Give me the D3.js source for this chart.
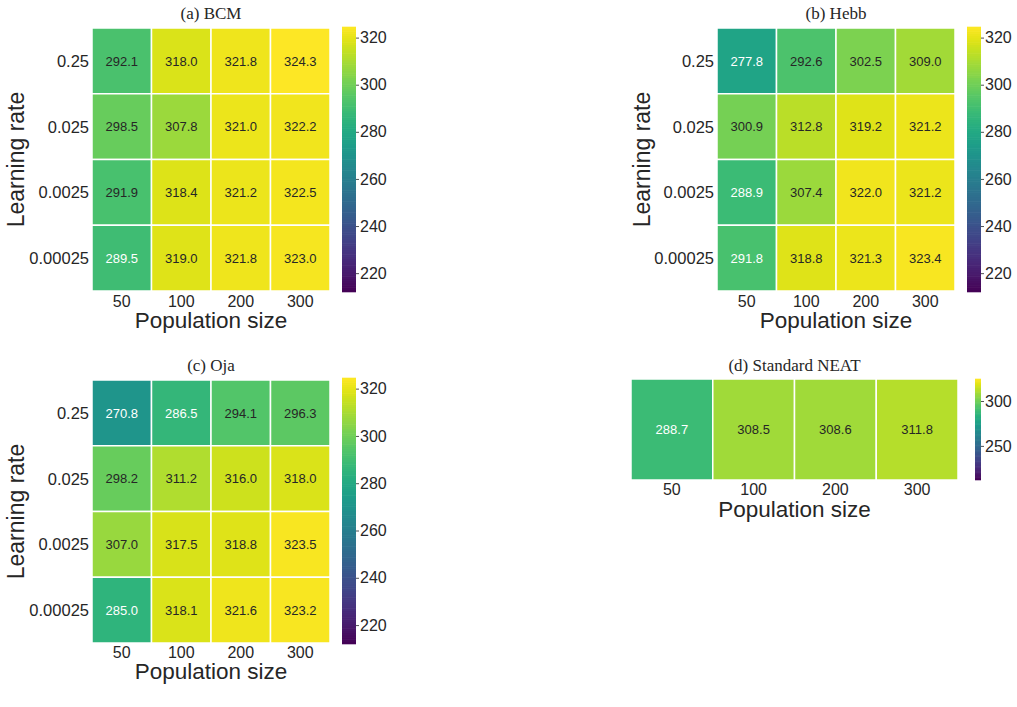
<!DOCTYPE html>
<html>
<head>
<meta charset="utf-8">
<script src="https://cdn.jsdelivr.net/npm/d3@7"></script>
<style>
  body { margin: 0; background: #fff; }
  text { fill: #262626; }
</style>
</head>
<body>
<div id="chart"></div>
<script>
// data
const popSizes = ["50", "100", "200", "300"];
const learningRates = ["0.25", "0.025", "0.0025", "0.00025"];
const bcm = [
	[292.1, 318.0, 321.8, 324.3],
	[298.5, 307.8, 321.0, 322.2],
	[291.9, 318.4, 321.2, 322.5],
	[289.5, 319.0, 321.8, 323.0]
];
const hebb = [
	[277.8, 292.6, 302.5, 309.0],
	[300.9, 312.8, 319.2, 321.2],
	[288.9, 307.4, 322.0, 321.2],
	[291.8, 318.8, 321.3, 323.4]
];
const oja = [
	[270.8, 286.5, 294.1, 296.3],
	[298.2, 311.2, 316.0, 318.0],
	[307.0, 317.5, 318.8, 323.5],
	[285.0, 318.1, 321.6, 323.2]
];
const neat = [[288.7, 308.5, 308.6, 311.8]];
const colorTicks = [220, 240, 260, 280, 300, 320];
const neatColorTicks = [250, 300];
const colorDomain = [212, 324.5];
// cells below this value get white annotation text
const lightTextBelow = 291.85;

const svg = d3.select("#chart").append("svg")
	.attr("width", 1017)
	.attr("height", 707);

const color = d3.scaleSequential(d3.interpolateViridis).domain(colorDomain);

function drawPanel(p) {
	const g = svg.append("g");
	const x = d3.scaleBand().domain(popSizes).range([p.x0, p.x1]);
	const y = d3.scaleBand().domain(p.rows).range([p.y0, p.y1]);

	const cells = [];
	p.data.forEach((row, i) => row.forEach((v, j) => cells.push({ r: p.rows[i], c: popSizes[j], v: v })));

	g.selectAll("rect.cell")
		.data(cells)
		.enter().append("rect")
		.attr("class", "cell")
		.attr("x", d => x(d.c))
		.attr("y", d => y(d.r))
		.attr("width", x.bandwidth())
		.attr("height", y.bandwidth())
		.style("fill", d => color(d.v))
		.style("stroke", "#fff")
		.style("stroke-width", 1.5);

	g.selectAll("text.annot")
		.data(cells)
		.enter().append("text")
		.attr("class", "annot")
		.attr("x", d => x(d.c) + x.bandwidth() / 2)
		.attr("y", d => y(d.r) + y.bandwidth() / 2)
		.attr("dy", "0.36em")
		.attr("text-anchor", "middle")
		.style("font", "13px 'Liberation Sans', Arial, sans-serif")
		.style("fill", d => d.v < lightTextBelow ? "#ffffff" : "#262626")
		.text(d => d.v.toFixed(1));

	// x tick labels
	g.selectAll("text.xt")
		.data(popSizes)
		.enter().append("text")
		.attr("x", d => x(d) + x.bandwidth() / 2)
		.attr("y", p.xtY)
		.attr("text-anchor", "middle")
		.style("font", "16px 'Liberation Sans', Arial, sans-serif")
		.text(d => d);

	g.append("text")
		.attr("x", (p.x0 + p.x1) / 2)
		.attr("y", p.xlY)
		.attr("text-anchor", "middle")
		.style("font", "22.5px 'Liberation Sans', Arial, sans-serif")
		.text("Population size");

	if (p.ylabel) {
		g.selectAll("text.yt")
			.data(p.rows)
			.enter().append("text")
			.attr("x", p.x0 - 3)
			.attr("y", d => y(d) + y.bandwidth() / 2)
			.attr("dy", "0.36em")
			.attr("text-anchor", "end")
			.style("font", "16.5px 'Liberation Sans', Arial, sans-serif")
			.text(d => d);

		g.append("text")
			.attr("transform", "translate(" + p.ylX + "," + (p.y0 + p.y1) / 2 + ") rotate(-90)")
			.attr("text-anchor", "middle")
			.style("font", "23px 'Liberation Sans', Arial, sans-serif")
			.text("Learning rate");
	}

	g.append("text")
		.attr("x", (p.x0 + p.x1) / 2)
		.attr("y", p.titleY)
		.attr("text-anchor", "middle")
		.style("font", "17px 'Liberation Serif', 'Times New Roman', serif")
		.text(p.title);

	// colorbar
	const cb = p.cb;
	const cy = d3.scaleLinear().domain(colorDomain).range([cb.y1, cb.y0]);
	const n = 120;
	const steps = d3.range(n).map(i => colorDomain[0] + (colorDomain[1] - colorDomain[0]) * i / n);
	const stepH = (cb.y1 - cb.y0) / n;
	g.selectAll("rect.cb")
		.data(steps)
		.enter().append("rect")
		.attr("x", cb.x)
		.attr("y", d => cy(d) - stepH - 0.3)
		.attr("width", cb.w)
		.attr("height", stepH + 0.6)
		.style("fill", d => color(d + (colorDomain[1] - colorDomain[0]) / n / 2));

	const ax = g.append("g")
		.attr("transform", "translate(" + (cb.x + cb.w) + ",0)")
		.call(d3.axisRight(cy).tickValues(cb.ticks).tickSize(3).tickPadding(1));
	ax.select(".domain").remove();
	ax.selectAll("line").style("stroke", "#262626").style("stroke-width", 0.8);
	ax.selectAll("text")
		.style("font", "16px 'Liberation Sans', Arial, sans-serif")
		.style("fill", "#262626");
}

drawPanel({ title: "(a) BCM", data: bcm, rows: learningRates, x0: 92, x1: 330, y0: 28, y1: 291,
	xtY: 306.5, xlY: 327.5, titleY: 18.5, ylabel: true, ylX: 24,
	cb: { x: 342, w: 14, y0: 27, y1: 292, ticks: colorTicks } });
drawPanel({ title: "(b) Hebb", data: hebb, rows: learningRates, x0: 717, x1: 955, y0: 28, y1: 291,
	xtY: 306.5, xlY: 327.5, titleY: 18.5, ylabel: true, ylX: 650,
	cb: { x: 967, w: 14, y0: 27, y1: 292, ticks: colorTicks } });
drawPanel({ title: "(c) Oja", data: oja, rows: learningRates, x0: 92, x1: 330, y0: 380, y1: 643,
	xtY: 657.5, xlY: 678.5, titleY: 371, ylabel: true, ylX: 24,
	cb: { x: 342, w: 14, y0: 378, y1: 644, ticks: colorTicks } });
drawPanel({ title: "(d) Standard NEAT", data: neat, rows: ["neat"], x0: 631, x1: 958, y0: 379, y1: 480,
	xtY: 495, xlY: 516.5, titleY: 371, ylabel: false,
	cb: { x: 975, w: 6, y0: 379, y1: 480, ticks: neatColorTicks } });
</script>
</body>
</html>
